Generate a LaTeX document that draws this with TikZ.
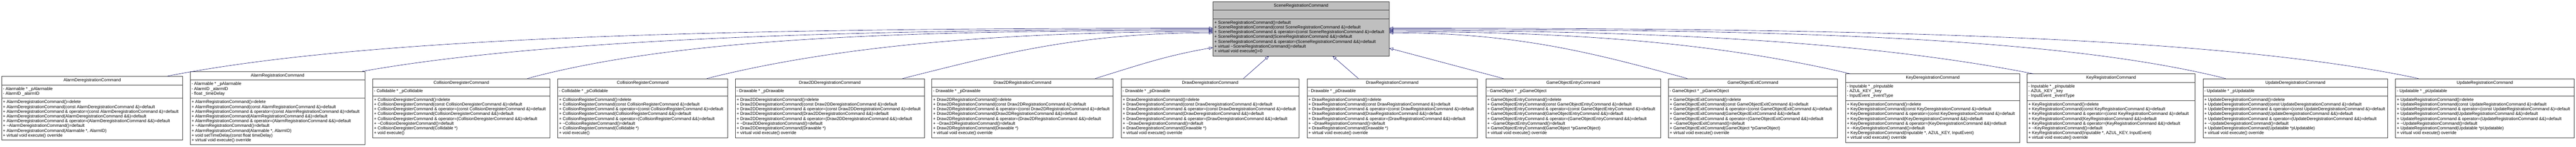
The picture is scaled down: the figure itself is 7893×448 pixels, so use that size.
\documentclass[tikz,border=0pt]{standalone}
\usepackage{fontspec}
\setmainfont{Liberation Sans}
\usetikzlibrary{shapes,arrows.meta}
\definecolor{edgeblue}{RGB}{25,25,112}
\definecolor{rootgray}{RGB}{191,191,191}
\definecolor{boxline}{RGB}{64,64,64}
\tikzstyle{classbox} = [draw=boxline, fill=white, line width=1.2pt, rectangle split, rectangle split parts=3, rectangle split part align={center,left,left}, align=left, inner xsep=4pt, inner ysep=5.25pt, font=\fontsize{13.07pt}{14.5pt}\selectfont]
\tikzstyle{rootbox} = [classbox, fill=rootgray]
\tikzstyle{inherit} = [draw=edgeblue, line width=1pt, -{Triangle[open, length=12pt, width=9pt]}]
\newcommand{\stdops}[1]{%
+ #1()=delete\\%
+ #1(const #1 \&)=default\\%
+ #1 \& operator=(const #1 \&)=default\\%
+ #1(#1 \&\&)=default\\%
+ #1 \& operator=(#1 \&\&)=default\\%
+ \textasciitilde#1()=default\\}

\begin{document}
\begin{tikzpicture}[x=1pt,y=1pt]

    \useasboundingbox (0,0) rectangle (7893,-448);

    \node[rootbox, minimum width=539pt] at (3986.5,-87.5) (root) [] {\strut SceneRegistrationCommand\nodepart{two}\strut\nodepart{three}\strut + SceneRegistrationCommand()=default\\%
+ SceneRegistrationCommand(const SceneRegistrationCommand \&)=default\\%
+ SceneRegistrationCommand \& operator=(const SceneRegistrationCommand \&)=default\\%
+ SceneRegistrationCommand(SceneRegistrationCommand \&\&)=default\\%
+ SceneRegistrationCommand \& operator=(SceneRegistrationCommand \&\&)=default\\%
+ virtual \textasciitilde SceneRegistrationCommand()=default\\%
+ virtual void execute()=0\strut};

    %=====================

    \node[classbox, minimum width=555pt] at (282.5,-330) (adr) [] {\strut AlarmDeregistrationCommand\nodepart{two}\strut - Alarmable * \_pAlarmable\\- AlarmID \_alarmID\strut\nodepart{three}\strut\stdops{AlarmDeregistrationCommand}+ AlarmDeregistrationCommand(Alarmable *, AlarmID)\\+ virtual void execute() override\strut};
    \node[classbox, minimum width=535pt] at (850.5,-330) (ar) [] {\strut AlarmRegistrationCommand\nodepart{two}\strut - Alarmable * \_pAlarmable\\- AlarmID \_alarmID\\- float \_timeDelay\strut\nodepart{three}\strut\stdops{AlarmRegistrationCommand}+ AlarmRegistrationCommand(Alarmable *, AlarmID)\\+ void setTimeDelay(const float timeDelay)\\+ virtual void execute() override\strut};
    \node[classbox, minimum width=543pt] at (1413.5,-330) (cdr) [] {\strut CollisionDeregisterCommand\nodepart{two}\strut - Collidable * \_pCollidable\strut\nodepart{three}\strut\stdops{CollisionDeregisterCommand}+ CollisionDeregisterCommand(Collidable *)\\+ void execute()\strut};
    \node[classbox, minimum width=521pt] at (1969.5,-330) (cr) [] {\strut CollisionRegisterCommand\nodepart{two}\strut - Collidable * \_pCollidable\strut\nodepart{three}\strut\stdops{CollisionRegisterCommand}+ CollisionRegisterCommand(Collidable *)\\+ void execute()\strut};
    \node[classbox, minimum width=579pt] at (2542.5,-330) (d2dr) [] {\strut Draw2DDeregistrationCommand\nodepart{two}\strut - Drawable * \_pDrawable\strut\nodepart{three}\strut\stdops{Draw2DDeregistrationCommand}+ Draw2DDeregistrationCommand(Drawable *)\\+ virtual void execute() override\strut};
    \node[classbox, minimum width=556pt] at (3133,-330) (d2r) [] {\strut Draw2DRegistrationCommand\nodepart{two}\strut - Drawable * \_pDrawable\strut\nodepart{three}\strut\stdops{Draw2DRegistrationCommand}+ Draw2DRegistrationCommand(Drawable *)\\+ virtual void execute() override\strut};
    \node[classbox, minimum width=544pt] at (3708,-330) (ddr) [] {\strut DrawDeregistrationCommand\nodepart{two}\strut - Drawable * \_pDrawable\strut\nodepart{three}\strut\stdops{DrawDeregistrationCommand}+ DrawDeregistrationCommand(Drawable *)\\+ virtual void execute() override\strut};
    \node[classbox, minimum width=522pt] at (4266,-330) (dr) [] {\strut DrawRegistrationCommand\nodepart{two}\strut - Drawable * \_pDrawable\strut\nodepart{three}\strut\stdops{DrawRegistrationCommand}+ DrawRegistrationCommand(Drawable *)\\+ virtual void execute() override\strut};
    \node[classbox, minimum width=535pt] at (4820.5,-330) (goe) [] {\strut GameObjectEntryCommand\nodepart{two}\strut - GameObject * \_pGameObject\strut\nodepart{three}\strut\stdops{GameObjectEntryCommand}+ GameObjectEntryCommand(GameObject *pGameObject)\\+ virtual void execute() override\strut};
    \node[classbox, minimum width=518pt] at (5371,-330) (gox) [] {\strut GameObjectExitCommand\nodepart{two}\strut - GameObject * \_pGameObject\strut\nodepart{three}\strut\stdops{GameObjectExitCommand}+ GameObjectExitCommand(GameObject *pGameObject)\\+ virtual void execute() override\strut};
    \node[classbox, minimum width=534pt] at (5922,-330) (kdr) [] {\strut KeyDeregistrationCommand\nodepart{two}\strut - Inputable * \_pInputable\\- AZUL\_KEY \_key\\- InputEvent \_eventType\strut\nodepart{three}\strut\stdops{KeyDeregistrationCommand}+ KeyDeregistrationCommand(Inputable *, AZUL\_KEY, InputEvent)\\+ virtual void execute() override\strut};
    \node[classbox, minimum width=515pt] at (6468.5,-330) (kr) [] {\strut KeyRegistrationCommand\nodepart{two}\strut - Inputable * \_pInputable\\- AZUL\_KEY \_key\\- InputEvent \_eventType\strut\nodepart{three}\strut\stdops{KeyRegistrationCommand}+ KeyRegistrationCommand(Inputable *, AZUL\_KEY, InputEvent)\\+ virtual void execute() override\strut};
    \node[classbox, minimum width=566pt] at (7033,-330) (udr) [] {\strut UpdateDeregistrationCommand\nodepart{two}\strut - Updatable * \_pUpdatable\strut\nodepart{three}\strut\stdops{UpdateDeregistrationCommand}+ UpdateDeregistrationCommand(Updatable *pUpdatable)\\+ virtual void execute() override\strut};
    \node[classbox, minimum width=547pt] at (7613.5,-330) (ur) [] {\strut UpdateRegistrationCommand\nodepart{two}\strut - Updatable * \_pUpdatable\strut\nodepart{three}\strut\stdops{UpdateRegistrationCommand}+ UpdateRegistrationCommand(Updatable *pUpdatable)\\+ virtual void execute() override\strut};

    %=====================

    \draw[inherit] ([xshift=230.5pt]adr.north) .. controls +(616,120) and +(-1500,0) .. ([yshift=1.5pt]root.west);
    \draw[inherit] ([xshift=259.5pt]ar.north) .. controls +(553,98) and +(-1120,0) .. ([yshift=-2pt]root.west);
    \draw[inherit] ([xshift=202.5pt]cdr.north) .. controls +(477,128) and +(-900,0) .. ([yshift=-5.5pt]root.west);
    \draw[inherit] ([xshift=196.5pt]cr.north) .. controls +(384,96) and +(-670,0) .. ([yshift=-9pt]root.west);
    \draw[inherit] ([xshift=223.5pt]d2dr.north) .. controls +(292,73) and +(-410,0) .. ([yshift=-12.5pt]root.west);
    \draw[inherit] ([xshift=223pt]d2r.north) .. controls +(140,43) and +(-144,-25) .. ([yshift=-57.5pt]root.west);

    \path
    ([xshift=102pt]ddr.north) edge [inherit] ([xshift=-98.5pt]root.south)
    ([xshift=-104pt]dr.north) edge [inherit] ([xshift=96.5pt]root.south)
    ([xshift=-214.5pt]goe.north) edge [inherit] ([yshift=-59.5pt]root.east);

    \draw[inherit] ([xshift=-201pt]gox.north) .. controls +(-280,75) and +(400,0) .. ([yshift=-12.5pt]root.east);
    \draw[inherit] ([xshift=-253pt]kdr.north) .. controls +(-379,88) and +(610,0) .. ([yshift=-9pt]root.east);
    \draw[inherit] ([xshift=-238.5pt]kr.north) .. controls +(-495,96) and +(850,0) .. ([yshift=-5.5pt]root.east);
    \draw[inherit] ([xshift=-214pt]udr.north) .. controls +(-537,134) and +(1100,0) .. ([yshift=-2pt]root.east);
    \draw[inherit] ([xshift=-203.5pt]ur.north) .. controls +(-604,128) and +(1480,0) .. ([yshift=1.5pt]root.east);

\end{tikzpicture}
\end{document}
